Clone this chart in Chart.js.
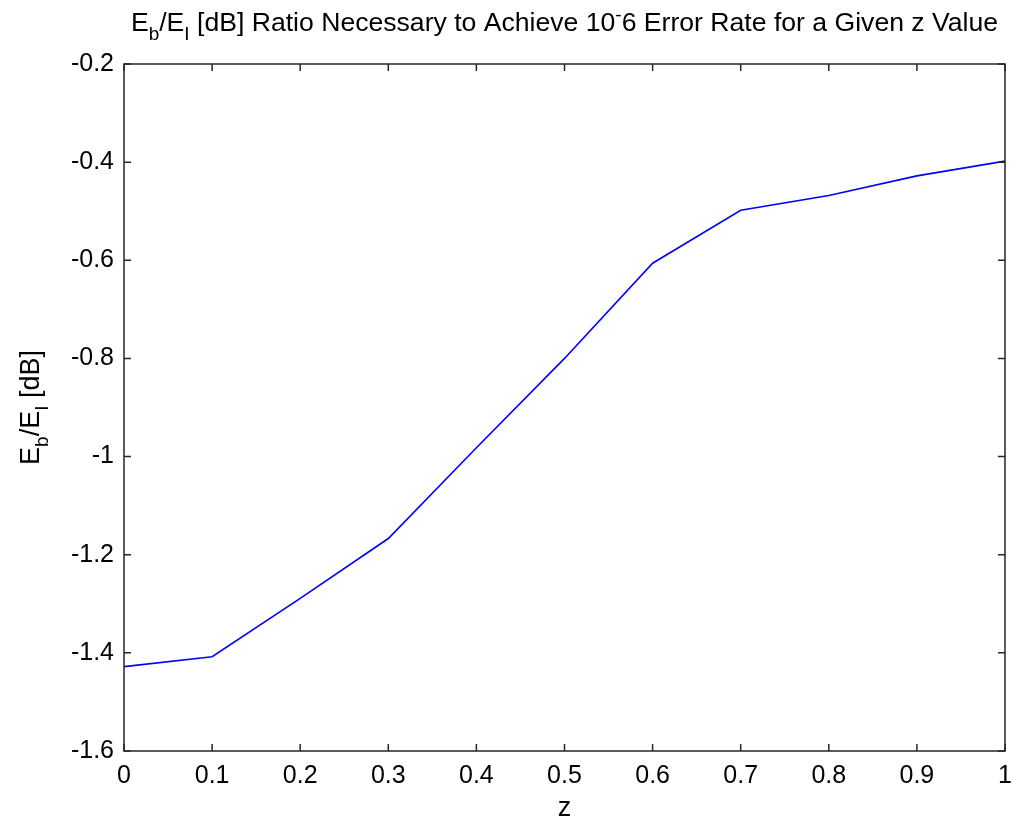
<!DOCTYPE html>
<html>
<head>
<meta charset="utf-8">
<script src="https://cdn.jsdelivr.net/npm/chart.js@4/dist/chart.umd.min.js"></script>
<style>
  html, body { margin: 0; padding: 0; background: #fff; }
  #wrap { width: 1013px; height: 825px; position: relative; }
</style>
</head>
<body>
<div id="wrap"><canvas id="c" width="1013" height="825"></canvas></div>
<script>
// z values along the horizontal axis
const zValues = [0, 0.1, 0.2, 0.3, 0.4, 0.5, 0.6, 0.7, 0.8, 0.9, 1.0];
// Eb/EI in dB needed for a 1e-6 error rate at each z
const ebEiDb = [-1.428, -1.408, -1.289, -1.167, -0.982, -0.800, -0.606, -0.498, -0.468, -0.428, -0.398];
// tick positions
const xTicks = [0, 0.1, 0.2, 0.3, 0.4, 0.5, 0.6, 0.7, 0.8, 0.9, 1];
const yTicks = [-1.6, -1.4, -1.2, -1, -0.8, -0.6, -0.4, -0.2];

const FONT = '"Liberation Sans", Arial, Helvetica, sans-serif';
const TICK_PX = 25;
const LABEL_PX = 27;
const TITLE_PX = 26.6;

// Draws a run of text pieces, some of them sub- or superscript
function richWidth(ctx, parts, size) {
  let w = 0;
  for (const p of parts) {
    const s = (p.sub || p.sup) ? Math.round(size * 0.72) : size;
    ctx.font = s + 'px ' + FONT;
    w += ctx.measureText(p.t).width;
  }
  return w;
}
function drawRich(ctx, parts, size, x, y) {
  for (const p of parts) {
    const s = (p.sub || p.sup) ? Math.round(size * 0.72) : size;
    ctx.font = s + 'px ' + FONT;
    let dy = 0;
    if (p.sub) dy = size * 0.32;
    if (p.sup) dy = -size * 0.38;
    ctx.fillText(p.t, x, y + dy);
    x += ctx.measureText(p.t).width;
  }
}

const titleParts = [
  {t: 'E'}, {t: 'b', sub: true}, {t: '/E'}, {t: 'I', sub: true},
  {t: ' [dB] Ratio Necessary to Achieve 10'}, {t: '-', sup: true},
  {t: '6 Error Rate for a Given z Value'}
];
const yLabelParts = [
  {t: 'E'}, {t: 'b', sub: true}, {t: '/E'}, {t: 'I', sub: true}, {t: ' [dB]'}
];

// Box frame, inward ticks on all four sides, and the rich-text labels
const frame = {
  id: 'frame',
  afterDraw(chart) {
    const ctx = chart.ctx;
    const a = chart.chartArea;
    const xs = chart.scales.x, ys = chart.scales.y;
    ctx.save();
    ctx.strokeStyle = '#262626';
    ctx.lineWidth = 1.5;
    ctx.strokeRect(a.left, a.top, a.right - a.left, a.bottom - a.top);
    const tl = 7;
    ctx.beginPath();
    for (const v of xTicks) {
      const px = xs.getPixelForValue(v);
      ctx.moveTo(px, a.bottom); ctx.lineTo(px, a.bottom - tl);
      ctx.moveTo(px, a.top); ctx.lineTo(px, a.top + tl);
    }
    for (const v of yTicks) {
      const py = ys.getPixelForValue(v);
      ctx.moveTo(a.left, py); ctx.lineTo(a.left + tl, py);
      ctx.moveTo(a.right, py); ctx.lineTo(a.right - tl, py);
    }
    ctx.stroke();

    ctx.fillStyle = '#000';
    ctx.textBaseline = 'alphabetic';
    ctx.textAlign = 'left';
    // title
    const tw = richWidth(ctx, titleParts, TITLE_PX);
    const cx = (a.left + a.right) / 2;
    drawRich(ctx, titleParts, TITLE_PX, cx - tw / 2, 31);
    // y-axis label
    const yw = richWidth(ctx, yLabelParts, LABEL_PX);
    ctx.translate(39, (a.top + a.bottom) / 2);
    ctx.rotate(-Math.PI / 2);
    drawRich(ctx, yLabelParts, LABEL_PX, -yw / 2, 0);
    ctx.restore();
  }
};

new Chart(document.getElementById('c'), {
  type: 'line',
  data: {
    datasets: [{
      data: zValues.map((z, i) => ({x: z, y: ebEiDb[i]})),
      borderColor: '#0000ff',
      borderWidth: 1.6,
      pointRadius: 0,
      tension: 0,
      fill: false
    }]
  },
  options: {
    responsive: false,
    animation: false,
    devicePixelRatio: 1,
    layout: { padding: { top: 64, right: 8, left: 0, bottom: 0 } },
    plugins: { legend: { display: false }, tooltip: { enabled: false } },
    scales: {
      x: {
        type: 'linear', min: 0, max: 1,
        afterBuildTicks(s) { s.ticks = xTicks.map(v => ({value: v})); },
        afterFit(s) { s.height = 825 - 751; s.paddingLeft = 0; s.paddingRight = 0; },
        grid: { display: false, drawTicks: false },
        border: { display: false },
        ticks: {
          padding: 10,
          maxRotation: 0,
          color: '#000',
          font: { family: FONT, size: TICK_PX },
          callback: v => String(Math.round(v * 10) / 10)
        },
        title: {
          display: true, text: 'z', color: '#000',
          font: { family: FONT, size: LABEL_PX },
          padding: { top: 4, bottom: 0 }
        }
      },
      y: {
        type: 'linear', min: -1.6, max: -0.2,
        afterBuildTicks(s) { s.ticks = yTicks.map(v => ({value: v})); },
        afterFit(s) { s.width = 124; s.paddingTop = 0; s.paddingBottom = 0; },
        grid: { display: false, drawTicks: false },
        border: { display: false },
        ticks: {
          padding: 10,
          color: '#000',
          font: { family: FONT, size: TICK_PX },
          callback: v => String(Math.round(v * 10) / 10)
        }
      }
    }
  },
  plugins: [frame]
});
</script>
</body>
</html>
